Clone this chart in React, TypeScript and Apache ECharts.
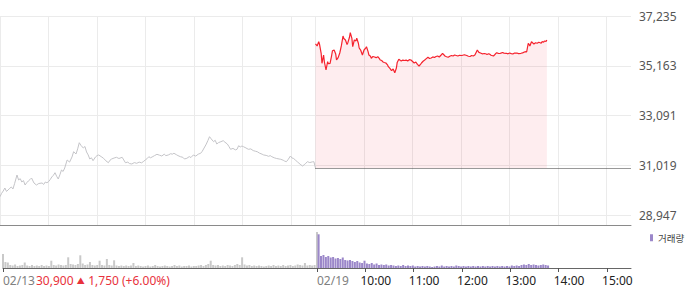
import React, { useEffect, useRef } from 'react';
import * as echarts from 'echarts';

// ---- axes / labels ----
const yTicks = [28947, 31019, 33091, 35163, 37235];
const prevClose = 30900;
const sessionLength = 390; // 09:00 - 15:30 in minutes
const xLabelTexts = ['02/13', '02/19', '10:00', '11:00', '12:00', '13:00', '14:00', '15:00'];
const xLabelMinutes = [0, 390, 450, 510, 570, 630, 690, 750];
const gridMinutes = [0, 60, 120, 180, 240, 300, 360, 390, 450, 510, 570, 630, 690, 750];
const bottomTickMinutes = [0, 390, 450, 510, 570, 630, 690, 750];
const priceText = '30,900';
const changeArrow = '▲';
const changeText = '1,750 (+6.00%)';
const volumeName = '거래량';

// ---- 02/13 price (minute from 09:00, price) ----
const prevMinutes = [0, 2, 4, 6, 8, 10, 12, 14, 16, 18, 21, 23, 25, 27, 29, 31, 33, 35, 37, 39, 42, 45, 48, 52, 54, 56, 58, 60, 62, 64, 66, 68, 70, 72, 74, 76, 78, 80, 83, 86, 89, 91, 94, 96, 98, 100, 103, 105, 107, 109, 111, 113, 115, 118, 120, 122, 125, 128, 131, 134, 136, 138, 141, 144, 147, 151, 153, 155, 158, 160, 163, 166, 169, 172, 175, 177, 180, 182, 184, 186, 188, 191, 194, 197, 200, 203, 205, 208, 211, 213, 215, 218, 220, 223, 226, 228, 231, 234, 236, 239, 242, 245, 248, 250, 253, 255, 257, 259, 261, 264, 266, 268, 270, 273, 276, 278, 281, 283, 285, 288, 291, 293, 295, 297, 299, 301, 304, 307, 310, 313, 316, 318, 321, 324, 326, 329, 332, 334, 336, 339, 342, 345, 347, 350, 352, 354, 356, 359, 361, 363, 365, 368, 371, 374, 376, 378, 380, 383, 386, 388, 390];
const prevPrices = [29709, 29850, 29947, 30072, 29930, 29988, 30060, 30113, 30030, 30250, 30613, 30405, 30460, 30321, 30380, 30196, 30290, 30363, 30420, 30488, 30280, 30196, 30260, 30280, 30220, 30321, 30290, 30334, 30420, 30530, 30600, 30709, 30560, 30446, 30620, 30821, 30760, 30905, 31238, 31150, 31363, 31583, 31488, 31700, 31958, 31850, 31737, 31800, 31571, 31450, 31279, 31330, 31209, 31363, 31420, 31446, 31380, 31309, 31200, 31125, 31230, 31279, 31320, 31350, 31300, 31350, 31240, 31125, 31150, 31090, 31071, 31130, 31100, 31150, 31120, 31167, 31250, 31300, 31375, 31330, 31363, 31420, 31475, 31440, 31404, 31480, 31420, 31446, 31500, 31480, 31517, 31460, 31420, 31375, 31350, 31280, 31309, 31380, 31340, 31446, 31400, 31480, 31517, 31600, 31779, 31900, 32050, 32208, 32120, 32000, 32060, 31904, 31960, 32000, 32042, 31980, 31904, 31800, 31683, 31720, 31660, 31683, 31833, 31780, 31820, 31792, 31740, 31683, 31700, 31630, 31600, 31583, 31520, 31480, 31446, 31430, 31390, 31420, 31375, 31330, 31300, 31280, 31267, 31230, 31190, 31167, 31250, 31404, 31320, 31300, 31238, 31150, 31060, 30988, 31040, 31100, 31167, 31130, 31160, 31167, 30900];

// ---- 02/19 price (minute from 09:00, price) ----
const todayMinutes = [0, 2, 4, 5, 7, 8, 10, 11, 13, 15, 16, 18, 20, 21, 23, 25, 26, 28, 30, 32, 34, 35, 37, 39, 40, 42, 43, 45, 46, 48, 50, 51, 53, 54, 56, 58, 60, 62, 63, 65, 66, 68, 69, 71, 73, 75, 77, 79, 80, 82, 83, 85, 87, 89, 90, 92, 94, 96, 98, 100, 101, 103, 105, 106, 108, 110, 112, 114, 116, 118, 120, 122, 124, 126, 128, 130, 131, 133, 135, 137, 139, 141, 143, 145, 147, 149, 151, 153, 155, 157, 159, 160, 162, 164, 166, 168, 170, 172, 174, 176, 178, 181, 184, 187, 189, 191, 193, 195, 197, 199, 200, 202, 204, 206, 209, 211, 212, 214, 215, 217, 220, 222, 224, 226, 228, 230, 231, 233, 236, 238, 240, 242, 244, 246, 249, 251, 254, 256, 259, 261, 263, 264, 265, 267, 269, 270, 272, 274, 276, 277, 279, 280, 282, 283, 285, 286];
const todayPrices = [36069, 35986, 36165, 36050, 35682, 35265, 35611, 35319, 34986, 35332, 35250, 35265, 35600, 35790, 35819, 35650, 35402, 35500, 35694, 36000, 36402, 36300, 36235, 36050, 36123, 36350, 36539, 36300, 35956, 36235, 36200, 36306, 36100, 35902, 35800, 35611, 35819, 35900, 35956, 35750, 35611, 35560, 35473, 35550, 35527, 35500, 35540, 35460, 35402, 35380, 35332, 35300, 35278, 35200, 35123, 35050, 34957, 35028, 34874, 35069, 35300, 35432, 35380, 35361, 35400, 35382, 35400, 35361, 35420, 35402, 35340, 35278, 35319, 35220, 35153, 35230, 35278, 35350, 35402, 35460, 35515, 35470, 35486, 35530, 35507, 35550, 35569, 35527, 35600, 35682, 35610, 35569, 35540, 35515, 35560, 35590, 35570, 35611, 35590, 35569, 35600, 35590, 35620, 35590, 35560, 35548, 35590, 35569, 35611, 35750, 35819, 35720, 35694, 35660, 35673, 35650, 35632, 35660, 35652, 35600, 35569, 35640, 35707, 35680, 35673, 35700, 35715, 35690, 35682, 35660, 35694, 35670, 35652, 35690, 35694, 35670, 35682, 35700, 35748, 35736, 36098, 36050, 35986, 36165, 36100, 36069, 36120, 36098, 36140, 36131, 36100, 36165, 36150, 36194, 36180, 36235];

// ---- volumes (one bar per 3 minutes) ----
const volumeStep = 3;
const prevVolumes = [140000, 60000, 55000, 30000, 25000, 35000, 20000, 25000, 30000, 55000, 25000, 20000, 30000, 20000, 25000, 20000, 30000, 20000, 25000, 20000, 73000, 30000, 25000, 35000, 30000, 25000, 30000, 107000, 40000, 35000, 30000, 40000, 127000, 45000, 30000, 35000, 60000, 30000, 25000, 30000, 73000, 30000, 25000, 90000, 30000, 25000, 77000, 25000, 20000, 25000, 20000, 25000, 20000, 25000, 50000, 20000, 25000, 20000, 15000, 20000, 25000, 15000, 20000, 30000, 20000, 15000, 20000, 25000, 20000, 15000, 20000, 30000, 20000, 25000, 15000, 20000, 20000, 25000, 15000, 20000, 20000, 25000, 30000, 20000, 30000, 40000, 73000, 30000, 25000, 30000, 20000, 25000, 20000, 30000, 25000, 20000, 30000, 40000, 30000, 107000, 35000, 25000, 30000, 20000, 25000, 20000, 25000, 20000, 15000, 20000, 25000, 20000, 30000, 20000, 25000, 20000, 30000, 20000, 25000, 30000, 20000, 25000, 35000, 30000, 25000, 50000, 25000, 30000, 25000, 30000];
const prevClosingVolume = 360000;
const todayVolumes = [337000, 120000, 130000, 110000, 120000, 105000, 110000, 95000, 100000, 90000, 105000, 80000, 75000, 80000, 70000, 60000, 70000, 55000, 50000, 73000, 45000, 40000, 50000, 35000, 45000, 30000, 35000, 30000, 35000, 25000, 30000, 25000, 20000, 25000, 20000, 30000, 20000, 25000, 20000, 25000, 15000, 20000, 15000, 20000, 15000, 20000, 15000, 10000, 15000, 20000, 15000, 25000, 15000, 20000, 15000, 20000, 15000, 25000, 20000, 15000, 20000, 15000, 20000, 15000, 20000, 15000, 20000, 15000, 20000, 15000, 20000, 15000, 20000, 15000, 20000, 15000, 20000, 15000, 20000, 15000, 25000, 20000, 25000, 20000, 30000, 35000, 30000, 40000, 30000, 35000, 30000, 25000, 30000, 35000, 30000, 25000];

const FONT = "'Noto Sans', 'Noto Sans CJK KR', sans-serif";

export default function App() {
  const ref = useRef<HTMLDivElement>(null);

  useEffect(() => {
    if (!ref.current) return;
    const chart = echarts.init(ref.current, undefined, { renderer: 'svg' });

    const total = sessionLength * 2;
    const labelValues = xLabelMinutes.map((m, i) => (i < 2 ? m : m - 6));

    const prevLine = prevMinutes.map((m, i) => [m, prevPrices[i]]);
    const todayLine = todayMinutes.map((m, i) => [sessionLength + m, todayPrices[i]]);
    const prevVol = prevVolumes.map((v, i) => [i * volumeStep, v]);
    prevVol.push([sessionLength, prevClosingVolume]);
    const todayVol = todayVolumes.map((v, i) => [sessionLength + 2 + i * volumeStep, v]);

    const gridLineColor = '#ebebeb';

    chart.setOption({
      animation: false,
      textStyle: { fontFamily: FONT },
      grid: [
        { left: 0, top: 16, width: 631, height: 199 },
        { left: 0, top: 215, width: 631, height: 10 },
        { left: 0, top: 225, width: 631, height: 43 },
      ],
      legend: {
        data: [{ name: volumeName, icon: 'rect', itemStyle: { color: '#9b87c9' } }],
        left: 650,
        top: 233,
        padding: 0,
        itemWidth: 3,
        itemHeight: 7,
        selectedMode: false,
        textStyle: { fontSize: 9.5, color: '#444', fontFamily: "'Noto Sans CJK KR', sans-serif" },
      },
      xAxis: [
        {
          type: 'value', gridIndex: 0, min: 0, max: total,
          axisLine: { show: false },
          axisTick: { show: false, customValues: gridMinutes },
          axisLabel: { show: false },
          splitLine: { show: true, lineStyle: { color: gridLineColor } },
        },
        {
          type: 'value', gridIndex: 1, min: 0, max: total,
          axisLine: { show: true, onZero: false, lineStyle: { color: '#8a8a8a', width: 1 } },
          axisTick: { show: false, customValues: gridMinutes },
          axisLabel: { show: false },
          splitLine: { show: true, lineStyle: { color: gridLineColor } },
        },
        {
          type: 'value', gridIndex: 2, min: 0, max: total,
          axisLine: { show: true, onZero: false, lineStyle: { color: '#666', width: 1 } },
          axisTick: { show: true, customValues: bottomTickMinutes, length: 4, lineStyle: { color: '#555' } },
          axisLabel: {
            show: true,
            customValues: labelValues,
            align: 'left',
            margin: 6.5,
            fontSize: 12,
            lineHeight: 12,
            formatter: (val: number) => {
              const idx = labelValues.findIndex((v) => Math.abs(v - val) < 0.01);
              if (idx < 0) return '';
              return idx < 2 ? `{d|${xLabelTexts[idx]}}` : `{h|${xLabelTexts[idx]}}`;
            },
            rich: {
              d: { color: '#808080', fontSize: 12, lineHeight: 12, fontFamily: FONT },
              h: { color: '#222', fontSize: 12, lineHeight: 12, fontFamily: FONT },
            },
          },
          splitLine: { show: false },
        },
      ],
      yAxis: [
        {
          type: 'value', gridIndex: 0, position: 'right',
          min: yTicks[0], max: yTicks[yTicks.length - 1], interval: yTicks[1] - yTicks[0],
          axisLine: { show: false },
          axisTick: { show: false },
          axisLabel: {
            margin: 8, color: '#555', fontSize: 12,
            formatter: (v: number) => Math.round(v).toLocaleString('en-US'),
          },
          splitLine: { show: true, lineStyle: { color: gridLineColor } },
        },
        { type: 'value', gridIndex: 1, min: 0, max: 1, show: false },
        { type: 'value', gridIndex: 2, min: 0, max: 430000, show: false },
      ],
      series: [
        {
          type: 'line', xAxisIndex: 0, yAxisIndex: 0, data: prevLine,
          showSymbol: false, symbol: 'none',
          lineStyle: { color: '#c4c4c8', width: 1 },
          silent: true,
        },
        {
          type: 'line', xAxisIndex: 0, yAxisIndex: 0, data: todayLine,
          showSymbol: false, symbol: 'none',
          lineStyle: { color: '#f5222d', width: 1.2 },
          areaStyle: { origin: prevClose, color: 'rgba(240,40,60,0.12)' },
          silent: true,
          markLine: {
            silent: true,
            symbol: ['none', 'none'],
            label: { show: false },
            lineStyle: { type: [1, 1], color: '#333', width: 1 },
            data: [[{ coord: [sessionLength, prevClose] }, { coord: [total, prevClose] }]],
          },
        },
        {
          type: 'bar', name: 'prevVolume', xAxisIndex: 2, yAxisIndex: 2, data: prevVol,
          barWidth: 2, itemStyle: { color: '#c9c9c9' }, silent: true,
        },
        {
          type: 'bar', name: volumeName, xAxisIndex: 2, yAxisIndex: 2, data: todayVol,
          barWidth: 2, barGap: '-100%', itemStyle: { color: '#9b87c9' }, silent: true,
        },
      ],
      graphic: [
        {
          type: 'text',
          left: 36,
          top: 274.5,
          silent: true,
          style: {
            text: `{p|${priceText}} {t|${changeArrow}} {p|${changeText}}`,
            rich: {
              p: { fontSize: 12, lineHeight: 12, fill: '#e8323c', fontFamily: FONT },
              t: { fontSize: 8, lineHeight: 12, fill: '#e8323c', fontFamily: FONT },
            },
          },
        },
      ],
    });

    return () => chart.dispose();
  }, []);

  return (
    <div
      ref={ref}
      style={{ position: 'absolute', left: 0, top: 0, width: 700, height: 289 }}
    />
  );
}
